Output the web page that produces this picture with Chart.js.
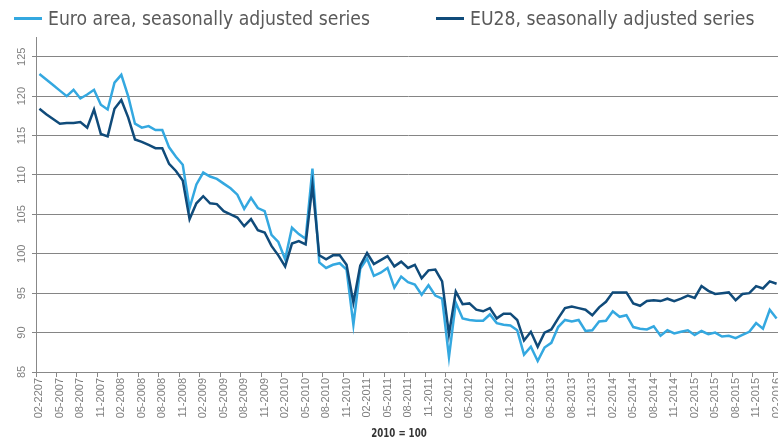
<!DOCTYPE html>
<html><head><meta charset="utf-8">
<script src="https://cdn.jsdelivr.net/npm/chart.js@4/dist/chart.umd.min.js"></script>
<style>
html,body{margin:0;padding:0;overflow:hidden;background:#fff;width:778px;height:441px;}
#wrap{position:relative;width:778px;height:441px;overflow:hidden;}
canvas{position:absolute;left:0;top:0;}
.leg{position:absolute;top:6px;height:24px;display:flex;align-items:center;font-family:'Liberation Sans Narrow','DejaVu Sans Condensed',Roboto,sans-serif;font-size:20px;color:#5a5a5a;white-space:nowrap;}
.leg i{display:inline-block;width:28px;height:3px;margin-right:6px;}
.leg span{display:inline-block;transform:scaleX(0.96);transform-origin:0 50%;}
#note{position:absolute;left:349px;width:100px;text-align:center;top:426px;font:bold 12px 'Liberation Sans Narrow','DejaVu Sans Condensed',sans-serif;color:#333;transform:scaleX(0.8);transform-origin:50% 50%;}
</style></head>
<body><div id="wrap"><canvas id="c" width="781" height="441"></canvas>
<div class="leg" style="left:14px"><i style="background:#34a8e0"></i><span>Euro area, seasonally adjusted series</span></div>
<div class="leg" style="left:436px"><i style="background:#104b7a"></i><span>EU28, seasonally adjusted series</span></div>
<div id="note">2010 = 100</div></div>
<script>
const months = [
 '02-2207','03-2007','04-2007','05-2007','06-2007','07-2007','08-2007','09-2007','10-2007','11-2007','12-2007',
 '01-2008','02-2008','03-2008','04-2008','05-2008','06-2008','07-2008','08-2008','09-2008','10-2008','11-2008','12-2008',
 '01-2009','02-2009','03-2009','04-2009','05-2009','06-2009','07-2009','08-2009','09-2009','10-2009','11-2009','12-2009',
 '01-2010','02-2010','03-2010','04-2010','05-2010','06-2010','07-2010','08-2010','09-2010','10-2010','11-2010','12-2010',
 '01-2011','02-2011','03-2011','04-2011','05-2011','06-2011','07-2011','08-2011','09-2011','10-2011','11-2011','12-2011',
 '01-2012','02-2012','03-2012','04-2012','05-2012','06-2012','07-2012','08-2012','09-2012','10-2012','11-2012','12-2012',
 '01-2013','02-2013','03-2013','04-2013','05-2013','06-2013','07-2013','08-2013','09-2013','10-2013','11-2013','12-2013',
 '01-2014','02-2014','03-2014','04-2014','05-2014','06-2014','07-2014','08-2014','09-2014','10-2014','11-2014','12-2014',
 '01-2015','02-2015','03-2015','04-2015','05-2015','06-2015','07-2015','08-2015','09-2015','10-2015','11-2015','12-2015',
 '01-2016','02-2016'
];
const euroArea = [
 122.8,122.1,121.4,120.7,120.0,120.8,119.7,120.2,120.8,118.9,118.3,
 121.7,122.7,120.0,116.5,116.0,116.2,115.7,115.7,113.5,112.3,111.3,105.8,
 108.8,110.3,109.8,109.5,108.9,108.3,107.5,105.7,107.1,105.8,105.4,102.4,
 101.5,99.3,103.3,102.5,101.9,110.8,98.9,98.2,98.6,98.8,98.0,91.0,
 98.1,99.4,97.2,97.6,98.2,95.7,97.1,96.4,96.1,94.8,96.0,94.7,
 94.3,86.9,93.8,91.8,91.6,91.5,91.5,92.3,91.2,91.0,90.9,90.3,
 87.2,88.2,86.4,88.1,88.7,90.7,91.6,91.4,91.6,90.2,90.3,91.4,
 91.5,92.7,92.0,92.2,90.7,90.5,90.4,90.8,89.6,90.3,89.9,90.1,
 90.3,89.7,90.2,89.8,90.0,89.5,89.6,89.3,89.7,90.1,91.2,90.5,
 92.9,91.8
];
const eu28 = [
 118.4,117.7,117.1,116.5,116.6,116.6,116.7,116.0,118.3,115.2,114.9,
 118.4,119.5,117.3,114.5,114.2,113.8,113.4,113.4,111.4,110.5,109.3,104.4,
 106.4,107.3,106.4,106.3,105.4,105.0,104.6,103.5,104.4,103.0,102.7,101.0,
 99.8,98.4,101.3,101.6,101.2,108.7,99.8,99.3,99.8,99.8,98.6,93.8,
 98.5,100.1,98.7,99.2,99.7,98.4,99.0,98.2,98.6,96.9,97.9,98.0,
 96.5,89.8,95.2,93.6,93.7,92.9,92.7,93.1,91.8,92.4,92.4,91.6,
 89.0,90.1,88.2,90.0,90.4,91.8,93.1,93.3,93.1,92.9,92.2,93.2,
 93.9,95.1,95.1,95.1,93.7,93.4,94.0,94.1,94.0,94.3,94.0,94.3,
 94.7,94.4,95.9,95.3,94.9,95.0,95.1,94.1,94.9,95.0,95.9,95.6,
 96.5,96.2
];
const yTicks = [85,90,95,100,105,110,115,120,125];

const tickFont = {family: "'Liberation Sans', Arial, sans-serif", size: 11};
new Chart(document.getElementById('c'), {
  type: 'line',
  data: {
    labels: months,
    datasets: [
      {label: 'Euro area, seasonally adjusted series', data: euroArea, borderColor: '#34a8e0', backgroundColor: '#34a8e0', borderWidth: 2.5, pointRadius: 0, tension: 0, order: 2},
      {label: 'EU28, seasonally adjusted series', data: eu28, borderColor: '#104b7a', backgroundColor: '#104b7a', borderWidth: 2.5, pointRadius: 0, tension: 0, order: 1}
    ]
  },
  options: {
    responsive: false, animation: false, devicePixelRatio: 1,
    layout: {padding: {top: 37, right: 1, left: 0, bottom: 0}},
    plugins: {legend: {display: false}, tooltip: {enabled: false}},
    scales: {
      x: {
        offset: true,
        grid: {offset: true, drawOnChartArea: false, drawTicks: true, tickLength: 5,
               tickColor: ctx => (ctx.index % 3 === 0 ? '#888888' : 'rgba(0,0,0,0)')},
        border: {display: true, color: '#888888', width: 1},
        ticks: {autoSkip: false, minRotation: 90, maxRotation: 90, padding: 1, color: '#7f7f7f', font: tickFont,
                callback: function(v, i) { return i % 3 === 0 ? this.getLabelForValue(v) : ''; }},
        afterFit: s => { s.height = 69; s.paddingLeft = 0; s.paddingRight = 0; }
      },
      y: {
        min: 85, max: 127.5,
        afterBuildTicks: s => { s.ticks = yTicks.map(v => ({value: v})); },
        grid: {color: '#858585', lineWidth: 1, drawTicks: true, tickLength: 4, tickColor: '#858585'},
        border: {display: true, color: '#888888', width: 1},
        ticks: {minRotation: 90, maxRotation: 90, crossAlign: 'center', padding: 1, color: '#7f7f7f', font: tickFont},
        afterFit: s => { s.width = 36; }
      }
    }
  }
});
</script>
</body></html>
